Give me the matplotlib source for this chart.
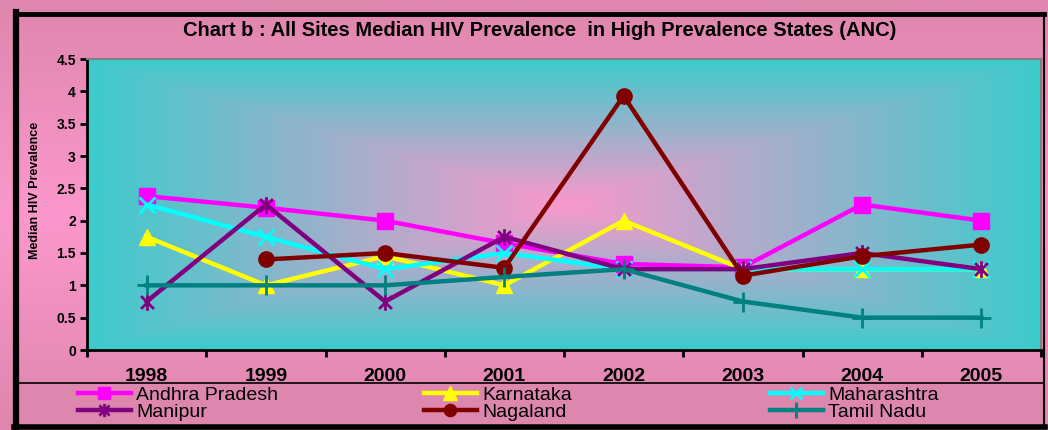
import numpy as np
import matplotlib.pyplot as plt
from matplotlib.path import Path
from matplotlib.lines import Line2D
from matplotlib.patches import Rectangle

# data
years = ['1998', '1999', '2000', '2001', '2002', '2003', '2004', '2005']
andhra = [2.38, 2.2, 2.0, 1.65, 1.33, 1.28, 2.25, 2.0]
karnataka = [1.75, 1.0, 1.45, 1.0, 2.0, 1.25, 1.25, 1.25]
maharashtra = [2.25, 1.75, 1.25, 1.5, 1.25, 1.25, 1.25, 1.25]
manipur = [0.75, 2.25, 0.75, 1.75, 1.25, 1.25, 1.5, 1.25]
nagaland = [np.nan, 1.4, 1.5, 1.27, 3.93, 1.15, 1.45, 1.63]
tamil = [1.0, 1.0, 1.0, 1.13, 1.25, 0.75, 0.5, 0.5]
yticks = [0, 0.5, 1, 1.5, 2, 2.5, 3, 3.5, 4, 4.5]
ylabels = ['0', '0.5', '1', '1.5', '2', '2.5', '3', '3.5', '4', '4.5']

plt.rcParams['font.family'] = ['Liberation Sans', 'DejaVu Sans']

W, H = 1048, 430
fig = plt.figure(figsize=(W / 100, H / 100), dpi=100)

#chart area background: pink, brighter in the middle band
pink_edge = np.array([0xDE, 0x86, 0xAD]) / 255
pink_mid = np.array([0xFC, 0x98, 0xCC]) / 255
yy = np.linspace(0, 1, 200)
t = np.clip(np.abs(yy - 0.5) / 0.5, 0, 1)[:, None]
bg = pink_mid * (1 - t) + pink_edge * t
bgax = fig.add_axes([0, 0, 1, 1], zorder=-5)
bgax.imshow(np.repeat(bg[:, None, :], 2, axis=1), aspect='auto', extent=[0, 1, 0, 1])
bgax.set_axis_off()

# plot area
ax = fig.add_axes([87 / W, 1 - 350 / H, (1041 - 87) / W, (350 - 59) / H])
teal = np.array([0x3C, 0xCB, 0xCB]) / 255
pink_c = np.array([0xFA, 0x98, 0xCC]) / 255
gx, gy = np.meshgrid(np.linspace(0, 1, 300), np.linspace(0, 1, 200))
tt = np.clip(np.maximum(np.abs(gx - 0.5) / 0.5, np.abs(gy - 0.5) / 0.5), 0, 1)[..., None]
grad = pink_c * (1 - tt) + teal * tt
ax.imshow(grad, aspect='auto', extent=[0, 1, 0, 1], transform=ax.transAxes, zorder=0)

x = np.arange(len(years))

# excel style asterisk: x plus a vertical bar
star = Path([(-1, -1), (1, 1), (-1, 1), (1, -1), (0, -1.3), (0, 1.3)],
            [Path.MOVETO, Path.LINETO, Path.MOVETO, Path.LINETO, Path.MOVETO, Path.LINETO])

lw = 3.2
series = [
    ('Andhra Pradesh', andhra, '#FF00FF', 's', 11, {}),
    ('Karnataka', karnataka, '#FFFF00', '^', 12, {}),
    ('Maharashtra', maharashtra, '#00FFFF', 'x', 11, {'markeredgewidth': 2}),
    ('Manipur', manipur, '#800080', star, 12, {'markeredgewidth': 2}),
    ('Nagaland', nagaland, '#800000', 'o', 11, {}),
    ('Tamil Nadu', tamil, '#008080', '+', 14, {'markeredgewidth': 2}),
]
handles = {}
for name, vals, col, mk, ms, kw in series:
    h, = ax.plot(x, vals, color=col, lw=lw, marker=mk, markersize=ms,
                 markerfacecolor=col, markeredgecolor=col, zorder=3, label=name, **kw)
    handles[name] = h

ax.set_xlim(-0.5, 7.5)
ax.set_ylim(0, 4.5)
ax.set_yticks(yticks, ylabels)
ax.set_xticks(x, years)
ax.set_xticks(np.arange(-0.5, 8, 1), minor=True)
ax.tick_params(axis='x', which='major', length=0, pad=13, labelsize=14)
ax.tick_params(axis='x', which='minor', length=5, width=2, direction='out')
ax.tick_params(axis='y', length=5, width=2, direction='out', labelsize=10, pad=3)
for lab in ax.get_xticklabels() + ax.get_yticklabels():
    lab.set_fontweight('bold')
for s in ['left', 'bottom']:
    ax.spines[s].set_linewidth(2)
    ax.spines[s].set_color('black')
for s in ['top', 'right']:
    ax.spines[s].set_linewidth(1.5)
    ax.spines[s].set_color('#808080')
ax.set_ylabel('Median HIV Prevalence', fontsize=9, fontweight='bold')
ax.yaxis.set_label_coords((41 - 87) / 954, (350 - 190) / 291)

fig.text(540 / W, 1 - 30 / H, 'Chart b : All Sites Median HIV Prevalence  in High Prevalence States (ANC)',
         ha='center', va='center', fontsize=14.5, fontweight='bold')

# legend box covering the lower edge of the year labels
fig.patches.append(Rectangle((19 / W, 1 - 427 / H), (1043 - 19) / W, (427 - 383) / H,
                             transform=fig.transFigure, facecolor='#DE87AE', edgecolor='none', zorder=1))
fig.lines.append(Line2D([19 / W, 1043 / W], [1 - 383 / H] * 2, transform=fig.transFigure,
                        color='black', lw=1.2, zorder=2))

# three legend columns, spaced evenly like excel does
cols = [(78, ['Andhra Pradesh', 'Manipur']), (424, ['Karnataka', 'Nagaland']),
        (770, ['Maharashtra', 'Tamil Nadu'])]
for px, names in cols:
    leg = fig.legend([handles[n] for n in names], names, loc='upper left',
                     bbox_to_anchor=(px / W, 1 - 386 / H), frameon=False, fontsize=14,
                     handlelength=2.7, handletextpad=0.3, labelspacing=0.0,
                     borderpad=0, borderaxespad=0, markerscale=0.8)
    leg.set_zorder(5)

# black frame around the chart
fig.lines.append(Line2D([15 / W, 1044 / W], [1 - 14 / H] * 2, transform=fig.transFigure, color='black', lw=3.5))
fig.lines.append(Line2D([16 / W] * 2, [1 - 12 / H, 1 - 428 / H], transform=fig.transFigure, color='black', lw=4.5))
fig.lines.append(Line2D([14 / W, 1045 / W], [1 - 427 / H] * 2, transform=fig.transFigure, color='black', lw=4))
fig.lines.append(Line2D([1044 / W] * 2, [1 - 13 / H, 1 - 428 / H], transform=fig.transFigure, color='black', lw=1.5))

fig.savefig('out.png', dpi=100, facecolor='#DE87AD')
